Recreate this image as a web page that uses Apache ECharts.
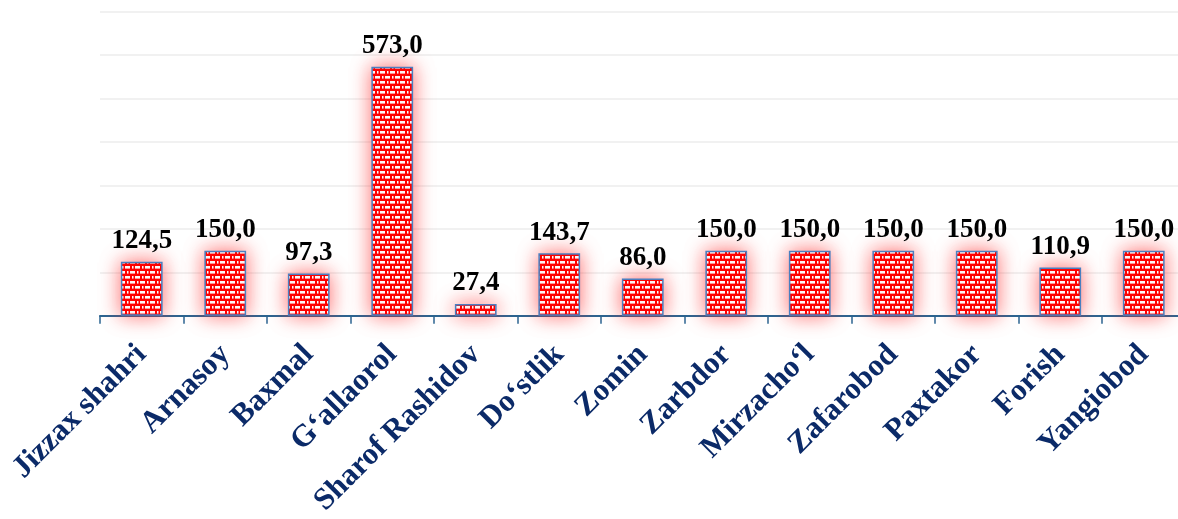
<!DOCTYPE html>
<html>
<head>
<meta charset="utf-8">
<script src="https://cdn.jsdelivr.net/npm/echarts@6/dist/echarts.min.js"></script>
<style>
html,body{margin:0;padding:0;background:#fff;overflow:hidden;}
#c{width:1186px;height:519px;}
</style>
</head>
<body>
<div id="c"></div>
<script>
const categories = ['Jizzax shahri','Arnasoy','Baxmal','G\u2018allaorol','Sharof Rashidov','Do\u2018stlik','Zomin','Zarbdor','Mirzacho\u2018l','Zafarobod','Paxtakor','Forish','Yangiobod'];
const values = [124.5, 150.0, 97.3, 573.0, 27.4, 143.7, 86.0, 150.0, 150.0, 150.0, 150.0, 110.9, 150.0];
const yMin = 0, yMax = 700, yStep = 100;

// pattern tile: red with white dashes
const tile = document.createElement('canvas');
tile.width = 10; tile.height = 10;
const g = tile.getContext('2d');
g.fillStyle = '#ff0000';
g.fillRect(0, 0, 10, 10);
g.fillStyle = '#ffffff';
g.fillRect(0, 1, 5, 2.6);
g.fillRect(7, 1, 1.5, 2.6);
g.fillRect(5, 6, 5, 2.6);
g.fillRect(2, 6, 1.5, 2.6);

const chart = echarts.init(document.getElementById('c'));
chart.setOption({
  animation: false,
  backgroundColor: '#ffffff',
  grid: { left: 100, right: 0.5, top: 11.7, bottom: 201.7, containLabel: false },
  xAxis: {
    type: 'category',
    data: categories,
    axisLine: { show: true, lineStyle: { color: '#2b6592', width: 2 } },
    axisTick: { show: true, length: 8, lineStyle: { color: '#2b6592', width: 1.5 } },
    axisLabel: {
      interval: 0, rotate: 45, margin: 34,
      fontFamily: 'Liberation Serif', fontWeight: 'bold', fontSize: 31,
      color: '#0b2a68'
    }
  },
  yAxis: {
    type: 'value', min: yMin, max: yMax, interval: yStep,
    axisLabel: { show: false }, axisLine: { show: false }, axisTick: { show: false },
    splitLine: { lineStyle: { color: '#ececec', width: 1.5 } }
  },
  series: [{
    type: 'bar',
    data: values,
    barWidth: '50%',
    itemStyle: {
      color: { image: tile, repeat: 'repeat' },
      borderColor: '#4a7fc0', borderWidth: 1.5,
      shadowBlur: 20, shadowColor: 'rgba(255,30,30,0.65)'
    },
    label: {
      show: true, position: 'top', distance: 7,
      fontFamily: 'Liberation Serif', fontWeight: 'bold', fontSize: 27, color: '#000',
      formatter: p => p.value.toFixed(1).replace('.', ',')
    }
  }]
});
</script>
</body>
</html>
